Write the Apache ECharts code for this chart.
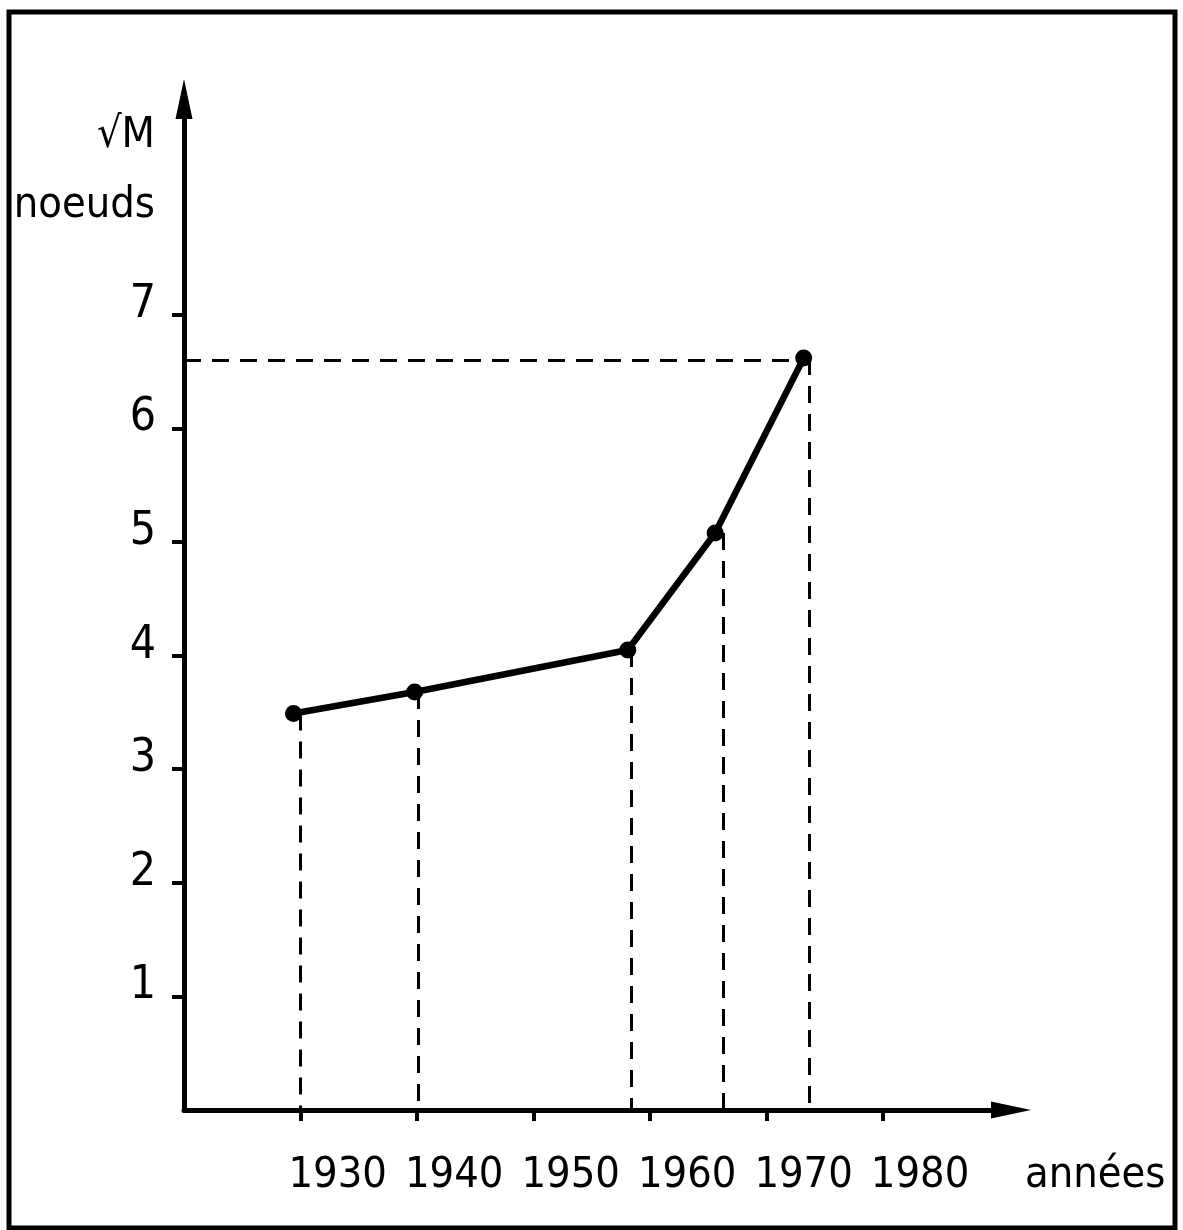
<!DOCTYPE html>
<html>
<head>
<meta charset="utf-8">
<title>noeuds / années</title>
<script src="https://cdn.jsdelivr.net/npm/echarts@6/dist/echarts.min.js"></script>
<style>
    html, body { margin: 0; padding: 0; background: #fff; }
    #chart { width: 1183px; height: 1230px; }
</style>
</head>
<body>
<div id="chart"></div>
<script>
    // valeurs
    var years = [1929.4, 1939.8, 1958.1, 1965.6, 1973.2];
    var speeds = [3.49, 3.68, 4.05, 5.08, 6.62];
    // les pointillés verticaux sont tracés un peu à droite des points
    var dropYears = [1930.0, 1940.1, 1958.4, 1966.3, 1973.7];
    var refSpeed = 6.6;
    var xTicks = [1930, 1940, 1950, 1960, 1970, 1980];
    var yTicks = [1, 2, 3, 4, 5, 6, 7];

    var FONT = "'DejaVu Sans Condensed', 'Liberation Sans', sans-serif";
    var black = '#000';

    var points = years.map(function (y, i) { return [y, speeds[i]]; });

    // lignes de rappel en pointillés
    var guides = dropYears.map(function (y, i) {
        return [{ coord: [y, speeds[i]] }, { coord: [y, 0] }];
    });
    guides.push([{ coord: [1920, refSpeed] }, { coord: [years[years.length - 1], refSpeed] }]);

    var chart = echarts.init(document.getElementById('chart'));
    chart.setOption({
        animation: false,
        backgroundColor: '#fff',
        grid: { left: 184, width: 827, top: 99, bottom: 120, outerBoundsMode: 'none' },
        graphic: [{
            type: 'rect',
            shape: { x: 9, y: 12, width: 1166, height: 1216 },
            style: { fill: 'none', stroke: black, lineWidth: 5 },
            silent: true
        }],
        xAxis: {
            type: 'value',
            min: 1920,
            max: 1991,
            name: 'années',
            nameLocation: 'end',
            nameGap: 14,
            nameTextStyle: {
                fontFamily: FONT, fontSize: 43, color: black,
                align: 'left', verticalAlign: 'top', padding: [44, 0, 0, 0]
            },
            axisLine: {
                lineStyle: { color: black, width: 5 },
                symbol: ['none', 'triangle'],
                symbolSize: [17, 40]
            },
            axisTick: { customValues: xTicks, length: 11, lineStyle: { color: black, width: 4 } },
            axisLabel: {
                customValues: xTicks,
                formatter: function (v) { return String(v); },
                hideOverlap: false,
                showMinLabel: true,
                showMaxLabel: true,
                margin: 44,
                fontFamily: FONT, fontSize: 43, color: black,
                align: 'left', padding: [0, 0, 0, -12]
            },
            splitLine: { show: false }
        },
        yAxis: {
            type: 'value',
            min: 0,
            max: 8.9,
            name: '√M\nnoeuds',
            nameLocation: 'end',
            nameGap: -2,
            nameTextStyle: {
                fontFamily: FONT, fontSize: 43, color: black, lineHeight: 70,
                align: 'right', verticalAlign: 'top', padding: [0, 29, 0, 0]
            },
            axisLine: {
                lineStyle: { color: black, width: 5 },
                symbol: ['none', 'triangle'],
                symbolSize: [17, 40]
            },
            axisTick: { customValues: yTicks, length: 12, lineStyle: { color: black, width: 4 } },
            axisLabel: {
                customValues: yTicks,
                margin: 28,
                fontFamily: FONT, fontSize: 46, color: black,
                verticalAlign: 'bottom', lineHeight: 20
            },
            splitLine: { show: false }
        },
        series: [{
            type: 'line',
            data: points,
            symbol: 'circle',
            symbolSize: 17,
            lineStyle: { color: black, width: 6.5 },
            itemStyle: { color: black },
            z: 5,
            markLine: {
                silent: true,
                symbol: ['none', 'none'],
                label: { show: false },
                lineStyle: { color: black, width: 3, type: [17, 11] },
                data: guides
            }
        }]
    });
</script>
</body>
</html>
